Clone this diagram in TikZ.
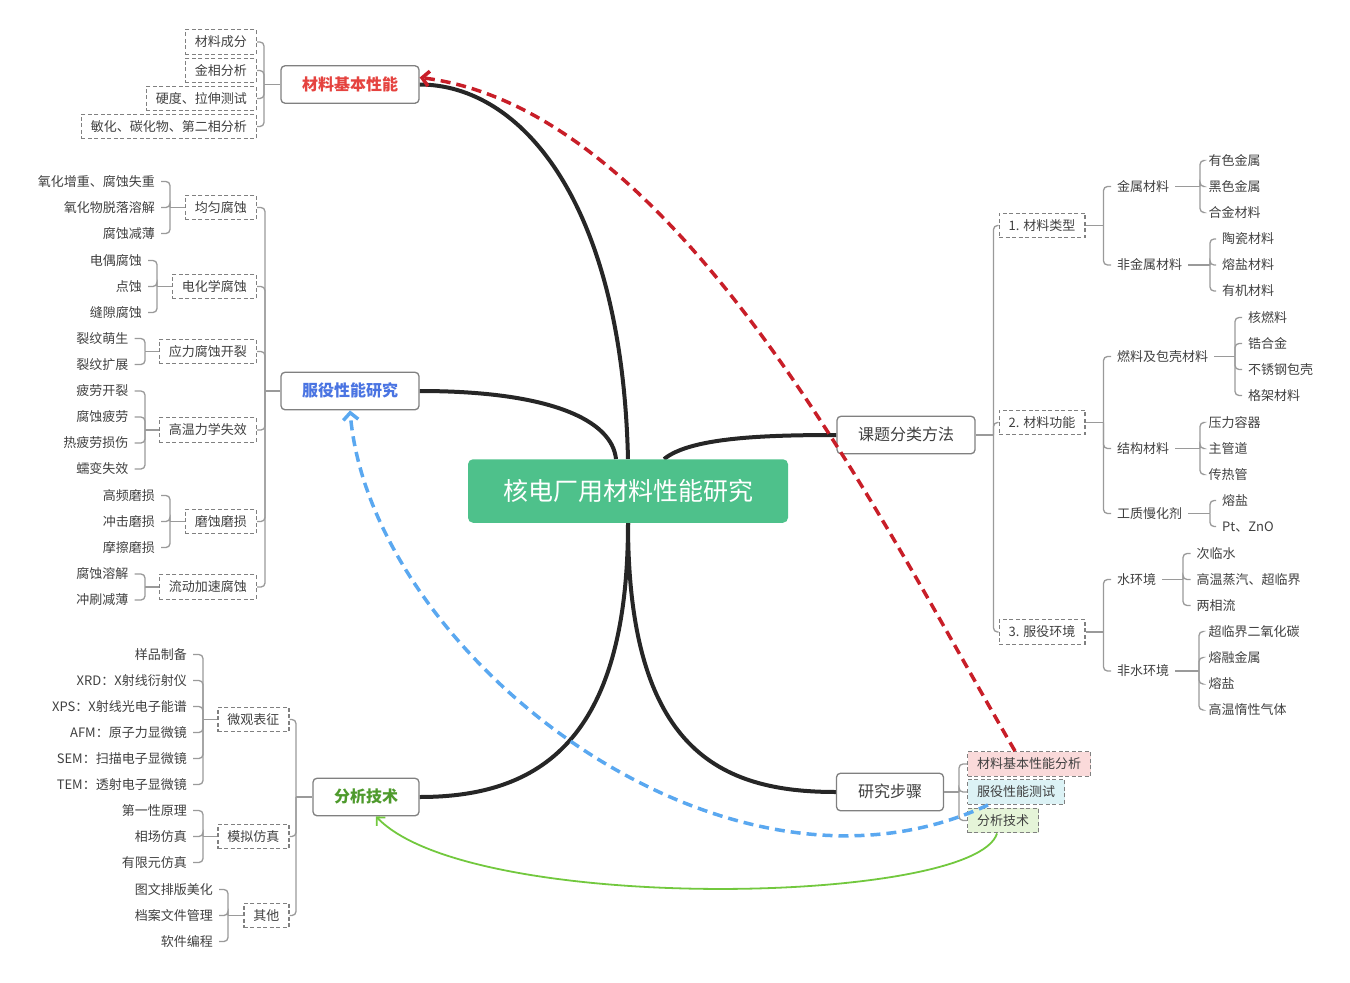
\documentclass[tikz,border=0pt]{standalone}
\usepackage{fontspec}
\setmainfont{Noto Sans CJK SC}
\usetikzlibrary{arrows.meta}
\definecolor{txt}{HTML}{404040}
\definecolor{lineg}{HTML}{9A9A9A}
\definecolor{boxg}{HTML}{808080}
\definecolor{trunkc}{HTML}{262626}
\definecolor{cgreen}{HTML}{4EC18B}
\definecolor{tred}{HTML}{E5433F}
\definecolor{tblue}{HTML}{4A74E2}
\definecolor{tgreen}{HTML}{4E9A2C}
\definecolor{arred}{HTML}{C81E28}
\definecolor{arblue}{HTML}{5AA8F0}
\definecolor{argreen}{HTML}{72C83E}
\definecolor{fpink}{HTML}{FADADA}
\definecolor{fcyan}{HTML}{DCF2F5}
\definecolor{fgreen}{HTML}{E5F4D8}
\pgfdeclarelayer{bg}
\pgfsetlayers{bg,main}
\newcommand\brL[3]{%
  \draw[conn] (#1.west) -- (#1.west -| #2,0);
  \foreach \kid in {#3}{\draw[conn] (#1.west -| #2,0) |- (\kid.east);}}
\newcommand\brR[3]{%
  \draw[conn] (#1.east) -- (#1.east -| #2,0);
  \foreach \kid in {#3}{\draw[conn] (#1.east -| #2,0) |- (\kid.west);}}
\tikzset{
  leaf/.style={inner xsep=6pt, inner ysep=1pt, text=txt, font=\fontsize{13}{15}\selectfont, text height=11pt, text depth=2pt},
  lleaf/.style={leaf, anchor=east},
  rleaf/.style={leaf, anchor=west},
  dbox/.style={draw=boxg, line width=1.4pt, dash pattern=on 4pt off 2.5pt, inner xsep=9.5pt, inner ysep=0pt, minimum height=24.5pt, text=txt, font=\fontsize{13}{15}\selectfont, text height=11pt, text depth=2pt},
  mainb/.style={draw=boxg, line width=1.3pt, rounded corners=4pt, fill=white, minimum height=37.5pt, inner xsep=0pt, font=\fontsize{16}{19}\selectfont, text height=13.5pt, text depth=2.5pt},
  conn/.style={draw=lineg, line width=1.3pt, rounded corners=4pt},
  trunk/.style={draw=trunkc, line width=4pt},
  relarrow/.style={line width=3.5pt, dash pattern=on 10pt off 6pt, -{Straight Barb[length=7pt,width=15pt]}},
}
\begin{document}
\begin{tikzpicture}[x=1pt, y={(0pt,-1pt)}]
\useasboundingbox (0,0) rectangle (1350,983);

% ---------- centre ----------
\node[fill=cgreen, rounded corners=5pt, minimum width=320pt, minimum height=63.5pt, text=white,
      font=\fontsize{25}{30}\selectfont, text height=22pt, text depth=3pt] (center) at (628,491) {核电厂用材料性能研究};

% ---------- main nodes ----------
\node[mainb, minimum width=138pt, text=tred, font=\fontsize{16}{19}\selectfont\bfseries] (mbasic) at (350,84.5) {材料基本性能};
\node[mainb, minimum width=138pt, text=tblue, font=\fontsize{16}{19}\selectfont\bfseries] (serv) at (350,391) {服役性能研究};
\node[mainb, minimum width=106pt, text=tgreen, font=\fontsize{16}{19}\selectfont\bfseries] (anal) at (366,797) {分析技术};
\node[mainb, minimum width=138pt, text=txt] (ktfl) at (906,435) {课题分类方法};
\node[mainb, minimum width=107pt, text=txt] (yjbz) at (890,792) {研究步骤};

% ---------- 材料基本性能 ----------
\node[dbox, anchor=east] (mb1) at (257,42) {材料成分};
\node[dbox, anchor=east] (mb2) at (257,70.5) {金相分析};
\node[dbox, anchor=east] (mb3) at (257,98.5) {硬度、拉伸测试};
\node[dbox, anchor=east] (mb4) at (257,126.5) {敏化、碳化物、第二相分析};
\brL{mbasic}{264}{mb1,mb2,mb3,mb4}

% ---------- 服役性能研究 ----------
\node[dbox, anchor=east] (s1) at (257,207.5) {均匀腐蚀};
\node[dbox, anchor=east] (s2) at (257,286.5) {电化学腐蚀};
\node[dbox, anchor=east] (s3) at (257,351.5) {应力腐蚀开裂};
\node[dbox, anchor=east] (s4) at (257,430) {高温力学失效};
\node[dbox, anchor=east] (s5) at (257,521.5) {磨蚀磨损};
\node[dbox, anchor=east] (s6) at (257,587) {流动加速腐蚀};
\brL{serv}{265}{s1,s2,s3,s4,s5,s6}

\node[lleaf] (s1a) at (161,181.5) {氧化增重、腐蚀失重};
\node[lleaf] (s1b) at (161,207.5) {氧化物脱落溶解};
\node[lleaf] (s1c) at (161,233.5) {腐蚀减薄};
\brL{s1}{170}{s1a,s1b,s1c}

\node[lleaf] (s2a) at (148,260.5) {电偶腐蚀};
\node[lleaf] (s2b) at (148,286.5) {点蚀};
\node[lleaf] (s2c) at (148,312.5) {缝隙腐蚀};
\brL{s2}{157}{s2a,s2b,s2c}

\node[lleaf] (s3a) at (134.5,338.5) {裂纹萌生};
\node[lleaf] (s3b) at (134.5,364.5) {裂纹扩展};
\brL{s3}{145}{s3a,s3b}

\node[lleaf] (s4a) at (134.5,391) {疲劳开裂};
\node[lleaf] (s4b) at (134.5,417) {腐蚀疲劳};
\node[lleaf] (s4c) at (134.5,443) {热疲劳损伤};
\node[lleaf] (s4d) at (134.5,469) {蠕变失效};
\brL{s4}{145}{s4a,s4b,s4c,s4d}

\node[lleaf] (s5a) at (161,495.5) {高频磨损};
\node[lleaf] (s5b) at (161,521.5) {冲击磨损};
\node[lleaf] (s5c) at (161,547.5) {摩擦磨损};
\brL{s5}{170}{s5a,s5b,s5c}

\node[lleaf] (s6a) at (134.5,574) {腐蚀溶解};
\node[lleaf] (s6b) at (134.5,600) {冲刷减薄};
\brL{s6}{145}{s6a,s6b}

% ---------- 分析技术 ----------
\node[dbox, anchor=east] (a1) at (289.5,719.5) {微观表征};
\node[dbox, anchor=east] (a2) at (289.5,836.5) {模拟仿真};
\node[dbox, anchor=east] (a3) at (289.5,915.5) {其他};
\brL{anal}{296}{a1,a2,a3}

\node[lleaf] (a1a) at (193,654.5) {样品制备};
\node[lleaf] (a1b) at (193,680.5) {XRD：X射线衍射仪};
\node[lleaf] (a1c) at (193,706.5) {XPS：X射线光电子能谱};
\node[lleaf] (a1d) at (193,732.5) {AFM：原子力显微镜};
\node[lleaf] (a1e) at (193,758.5) {SEM：扫描电子显微镜};
\node[lleaf] (a1f) at (193,784.5) {TEM：透射电子显微镜};
\brL{a1}{203}{a1a,a1b,a1c,a1d,a1e,a1f}

\node[lleaf] (a2a) at (193,810.5) {第一性原理};
\node[lleaf] (a2b) at (193,836.5) {相场仿真};
\node[lleaf] (a2c) at (193,862.5) {有限元仿真};
\brL{a2}{203}{a2a,a2b,a2c}

\node[lleaf] (a3a) at (219,889.5) {图文排版美化};
\node[lleaf] (a3b) at (219,915.5) {档案文件管理};
\node[lleaf] (a3c) at (219,941.5) {软件编程};
\brL{a3}{228}{a3a,a3b,a3c}

% ---------- 课题分类方法 ----------
\node[dbox, anchor=west] (k1) at (998.5,225.5) {1. 材料类型};
\node[dbox, anchor=west] (k2) at (998.5,422.5) {2. 材料功能};
\node[dbox, anchor=west] (k3) at (998.5,632) {3. 服役环境};
\brR{ktfl}{993.5}{k1,k2,k3}

\node[rleaf] (k1a) at (1111,186.5) {金属材料};
\node[rleaf] (k1b) at (1111,265) {非金属材料};
\brR{k1}{1103.5}{k1a,k1b}
\node[rleaf] (k1a1) at (1202.5,160.5) {有色金属};
\node[rleaf] (k1a2) at (1202.5,186.5) {黑色金属};
\node[rleaf] (k1a3) at (1202.5,212.5) {合金材料};
\brR{k1a}{1200}{k1a1,k1a2,k1a3}
\node[rleaf] (k1b1) at (1216,239) {陶瓷材料};
\node[rleaf] (k1b2) at (1216,265) {熔盐材料};
\node[rleaf] (k1b3) at (1216,291) {有机材料};
\brR{k1b}{1210}{k1b1,k1b2,k1b3}

\node[rleaf] (k2a) at (1111,356.5) {燃料及包壳材料};
\node[rleaf] (k2b) at (1111,448.5) {结构材料};
\node[rleaf] (k2c) at (1111,513.5) {工质慢化剂};
\brR{k2}{1103.5}{k2a,k2b,k2c}
\node[rleaf] (k2a1) at (1242,317.5) {核燃料};
\node[rleaf] (k2a2) at (1242,343.5) {锆合金};
\node[rleaf] (k2a3) at (1242,369.5) {不锈钢包壳};
\node[rleaf] (k2a4) at (1242,395.5) {格架材料};
\brR{k2a}{1235}{k2a1,k2a2,k2a3,k2a4}
\node[rleaf] (k2b1) at (1202.5,422.5) {压力容器};
\node[rleaf] (k2b2) at (1202.5,448.5) {主管道};
\node[rleaf] (k2b3) at (1202.5,474.5) {传热管};
\brR{k2b}{1200}{k2b1,k2b2,k2b3}
\node[rleaf] (k2c1) at (1216,500.5) {熔盐};
\node[rleaf] (k2c2) at (1216,526.5) {Pt、ZnO};
\brR{k2c}{1210}{k2c1,k2c2}

\node[rleaf] (k3a) at (1111,579.5) {水环境};
\node[rleaf] (k3b) at (1111,671) {非水环境};
\brR{k3}{1103.5}{k3a,k3b}
\node[rleaf] (k3a1) at (1190.5,553.5) {次临水};
\node[rleaf] (k3a2) at (1190.5,579.5) {高温蒸汽、超临界};
\node[rleaf] (k3a3) at (1190.5,605.5) {两相流};
\brR{k3a}{1183}{k3a1,k3a2,k3a3}
\node[rleaf] (k3b1) at (1202.5,631.5) {超临界二氧化碳};
\node[rleaf] (k3b2) at (1202.5,657.5) {熔融金属};
\node[rleaf] (k3b3) at (1202.5,684) {熔盐};
\node[rleaf] (k3b4) at (1202.5,710) {高温惰性气体};
\brR{k3b}{1199}{k3b1,k3b2,k3b3,k3b4}

% ---------- 研究步骤 ----------
\node[dbox, anchor=west, fill=fpink] (y1) at (967,764) {材料基本性能分析};
\node[dbox, anchor=west, fill=fcyan] (y2) at (967,792) {服役性能测试};
\node[dbox, anchor=west, fill=fgreen] (y3) at (967,820.5) {分析技术};
\brR{yjbz}{959}{y1,y2,y3}

% ---------- trunk curves ----------
\begin{pgfonlayer}{bg}
\draw[trunk] (center.north) .. controls (622,200) and (520,84.5) .. (mbasic.east);
\draw[trunk] ([xshift=-12pt]center.north) .. controls (612,420) and (550,391) .. (serv.east);
\draw[trunk] ([xshift=36pt]center.north) .. controls (690,438) and (760,435) .. (ktfl.west);
\draw[trunk] (center.south) .. controls (628,740) and (540,797) .. (anal.east);
\draw[trunk] (center.south) .. controls (628,750) and (720,792) .. (yjbz.west);
\end{pgfonlayer}

% ---------- relation arrows ----------
\draw[relarrow, arred] (y1.north -| 1015,0) .. controls (880,520) and (680,110) .. ([yshift=7pt]mbasic.east);
\draw[relarrow, arblue] (y2.south -| 988,0) .. controls (720,930) and (370,650) .. (serv.south);
\draw[argreen, line width=1.8pt, -{Straight Barb[length=6pt,width=12pt]}] (y3.south -| 997,0) .. controls (975,905) and (470,915) .. ([xshift=10pt]anal.south);
\end{tikzpicture}
\end{document}
